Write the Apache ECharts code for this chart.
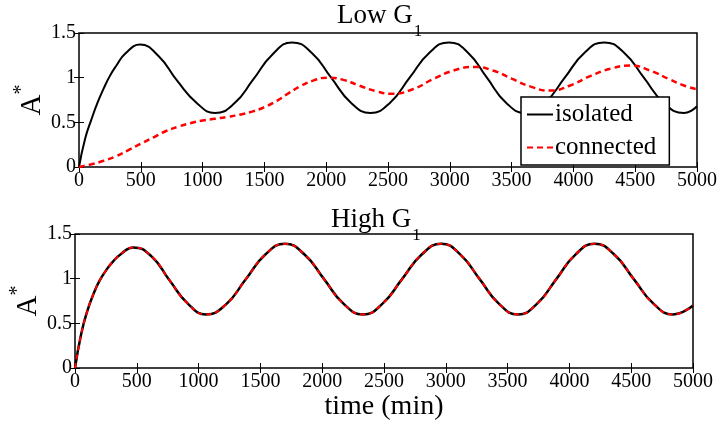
<!DOCTYPE html>
<html>
<head>
<meta charset="utf-8">
<script src="https://cdn.jsdelivr.net/npm/echarts@6/dist/echarts.min.js"></script>
<style>
html,body{margin:0;padding:0;background:#fff;}
#chart{width:718px;height:426px;}
</style>
</head>
<body>
<div id="chart"></div>
<script>
// Low G1 panel
var lowIsolatedTime  = [0,50,100,150,200,250,300,375,494,645,797,950,1100,1255,1410,1565,1723,1882,2040,2200,2358,2517,2675,2835,2993,3147,3300,3455,3610,3770,3930,4090,4249,4410,4570,4730,4894,5000];
var lowIsolatedValue = [0,0.32,0.53,0.72,0.88,1.02,1.13,1.27,1.37,1.24,0.96,0.72,0.605,0.71,0.98,1.26,1.395,1.28,1.0,0.72,0.605,0.72,1.0,1.28,1.395,1.28,1.0,0.72,0.605,0.72,1.0,1.28,1.395,1.28,1.0,0.72,0.605,0.68];

var lowConnectedTime  = [0,100,200,300,400,500,600,700,800,900,1000,1100,1200,1300,1400,1500,1600,1700,1800,1900,2007,2140,2270,2400,2530,2700,2860,3030,3196,3350,3500,3655,3810,3970,4140,4300,4465,4620,4780,4900,5000];
var lowConnectedValue = [0,0.03,0.07,0.12,0.19,0.26,0.33,0.40,0.45,0.49,0.52,0.54,0.56,0.585,0.62,0.67,0.74,0.83,0.91,0.97,1.0,0.975,0.91,0.85,0.82,0.87,0.98,1.08,1.12,1.08,0.99,0.90,0.855,0.91,1.02,1.10,1.135,1.08,0.98,0.91,0.87];

// High G1 panel
var highIsolatedTime  = [0,50,100,150,200,250,300,375,472,619,766,913,1060,1220,1380,1540,1699,1857,2015,2172,2330,2488,2646,2805,2963,3118,3274,3429,3584,3739,3894,4049,4204,4363,4521,4680,4838,5000];
var highIsolatedValue = [0,0.38,0.64,0.83,0.98,1.09,1.18,1.28,1.35,1.25,0.98,0.72,0.60,0.71,0.99,1.27,1.39,1.27,0.995,0.72,0.60,0.72,0.995,1.27,1.39,1.27,0.995,0.72,0.60,0.72,0.995,1.27,1.39,1.27,0.995,0.72,0.60,0.70];

var highConnectedTime  = [0,50,100,150,200,250,300,375,472,619,766,913,1060,1220,1380,1540,1699,1857,2015,2172,2330,2488,2646,2805,2963,3118,3274,3429,3584,3739,3894,4049,4204,4363,4521,4680,4838,5000];
var highConnectedValue = [0,0.38,0.64,0.83,0.98,1.09,1.18,1.28,1.35,1.25,0.98,0.72,0.60,0.71,0.99,1.27,1.39,1.27,0.995,0.72,0.60,0.72,0.995,1.27,1.39,1.27,0.995,0.72,0.60,0.72,0.995,1.27,1.39,1.27,0.995,0.72,0.60,0.70];

var seriesNames = ['isolated', 'connected'];
var panelTitles = ['Low G', 'High G'];
var xTitle = 'time (min)';

function pairs(ts, vs){ return ts.map(function(t,i){ return [t, vs[i]]; }); }

var FONT = 'Liberation Serif';

function xAx(grid, pos, withLabels, extra){
  var a = {
    type:'value', gridIndex:grid, position:pos, min:0, max:5000, interval:500,
    axisLine:{show:false},
    axisTick:{show:true, inside:true, length:5, lineStyle:{color:'#000', width:1}},
    axisLabel:{show:withLabels, fontSize:20, fontFamily:FONT, color:'#000', margin:4,
      formatter:function(v){ return String(v); }},
    splitLine:{show:false}
  };
  for (var k in (extra||{})) a[k]=extra[k];
  return a;
}
function yAx(grid, pos, withLabels, extra){
  var a = {
    type:'value', gridIndex:grid, position:pos, min:0, max:1.5, interval:0.5,
    axisLine:{show:false},
    axisTick:{show:true, inside:true, length:5, lineStyle:{color:'#000', width:1}},
    axisLabel:{show:withLabels, fontSize:20, fontFamily:FONT, color:'#000', margin:3,
      formatter:function(v){ return String(v); }},
    splitLine:{show:false}
  };
  for (var k in (extra||{})) a[k]=extra[k];
  return a;
}
function yName(){
  return {
    name:'{a|A}{s|*}', nameLocation:'middle', nameGap:32, nameRotate:90, nameMoveOverlap:false,
    nameTextStyle:{
      fontSize:28, fontFamily:FONT, color:'#000',
      rich:{
        a:{fontSize:29, fontFamily:FONT, color:'#000', lineHeight:35, verticalAlign:'bottom'},
        s:{fontSize:20, fontFamily:FONT, color:'#000', lineHeight:16, verticalAlign:'top'}
      }
    }
  };
}
function titleRich(){
  return {
    fontSize:27, fontWeight:'normal', fontFamily:FONT, color:'#000',
    rich:{
      m:{fontSize:27, fontFamily:FONT, color:'#000', lineHeight:28, verticalAlign:'top'},
      s:{fontSize:17, fontFamily:FONT, color:'#000', lineHeight:38, verticalAlign:'bottom', padding:[0,0,0,1]}
    }
  };
}

var chart = echarts.init(document.getElementById('chart'), null, {renderer:'canvas'});
chart.setOption({
  backgroundColor:'#fff',
  animation:false,
  title:[
    {text: '{m|' + panelTitles[0] + '}{s|1}', left:337, top:2, textStyle:titleRich(), padding:0},
    {text: '{m|' + panelTitles[1] + '}{s|1}', left:331, top:206, textStyle:titleRich(), padding:0}
  ],
  legend:{
    data:seriesNames, orient:'vertical', left:521, top:97,
    backgroundColor:'#fff', borderColor:'#000', borderWidth:1.5, borderRadius:0,
    padding:[5,13,5,5], itemGap:8, itemWidth:26, itemHeight:14,
    itemStyle:{color:'rgba(0,0,0,0)', borderWidth:0, opacity:0},
    textStyle:{fontSize:25, fontFamily:FONT, color:'#000', padding:[0,0,0,-3]},
    z:10
  },
  grid:[
    {left:79, top:33, width:618, height:134, show:true, borderColor:'#000', borderWidth:1.5,
      backgroundColor:'transparent', outerBoundsMode:'none', containLabel:false},
    {left:75, top:234, width:618, height:134, show:true, borderColor:'#000', borderWidth:1.5,
      backgroundColor:'transparent', outerBoundsMode:'none', containLabel:false}
  ],
  xAxis:[
    xAx(0,'bottom',true),
    xAx(0,'top',false),
    xAx(1,'bottom',true,{name:xTitle, nameLocation:'middle', nameGap:25, nameMoveOverlap:false,
      nameTextStyle:{fontSize:28, fontFamily:FONT, color:'#000'}}),
    xAx(1,'top',false)
  ],
  yAxis:[
    yAx(0,'left',true,yName()),
    yAx(0,'right',false),
    yAx(1,'left',true,yName()),
    yAx(1,'right',false)
  ],
  series:[
    {name:seriesNames[0], type:'line', xAxisIndex:0, yAxisIndex:0, data:pairs(lowIsolatedTime, lowIsolatedValue),
      symbol:'none', smooth:0.5, lineStyle:{color:'#000', width:2}, itemStyle:{color:'#000'}, z:2},
    {name:seriesNames[1], type:'line', xAxisIndex:0, yAxisIndex:0, data:pairs(lowConnectedTime, lowConnectedValue),
      symbol:'none', smooth:0.5, lineStyle:{color:'#ff0000', width:2.5, type:[6,4]}, itemStyle:{color:'#ff0000'}, z:3},
    {name:seriesNames[0], type:'line', xAxisIndex:2, yAxisIndex:2, data:pairs(highIsolatedTime, highIsolatedValue),
      symbol:'none', smooth:0.5, lineStyle:{color:'#000', width:2.5}, itemStyle:{color:'#000'}, z:2},
    {name:seriesNames[1], type:'line', xAxisIndex:2, yAxisIndex:2, data:pairs(highConnectedTime, highConnectedValue),
      symbol:'none', smooth:0.5, lineStyle:{color:'#ff0000', width:2, type:[5,4]}, itemStyle:{color:'#ff0000'}, z:3}
  ]
});
</script>
</body>
</html>
